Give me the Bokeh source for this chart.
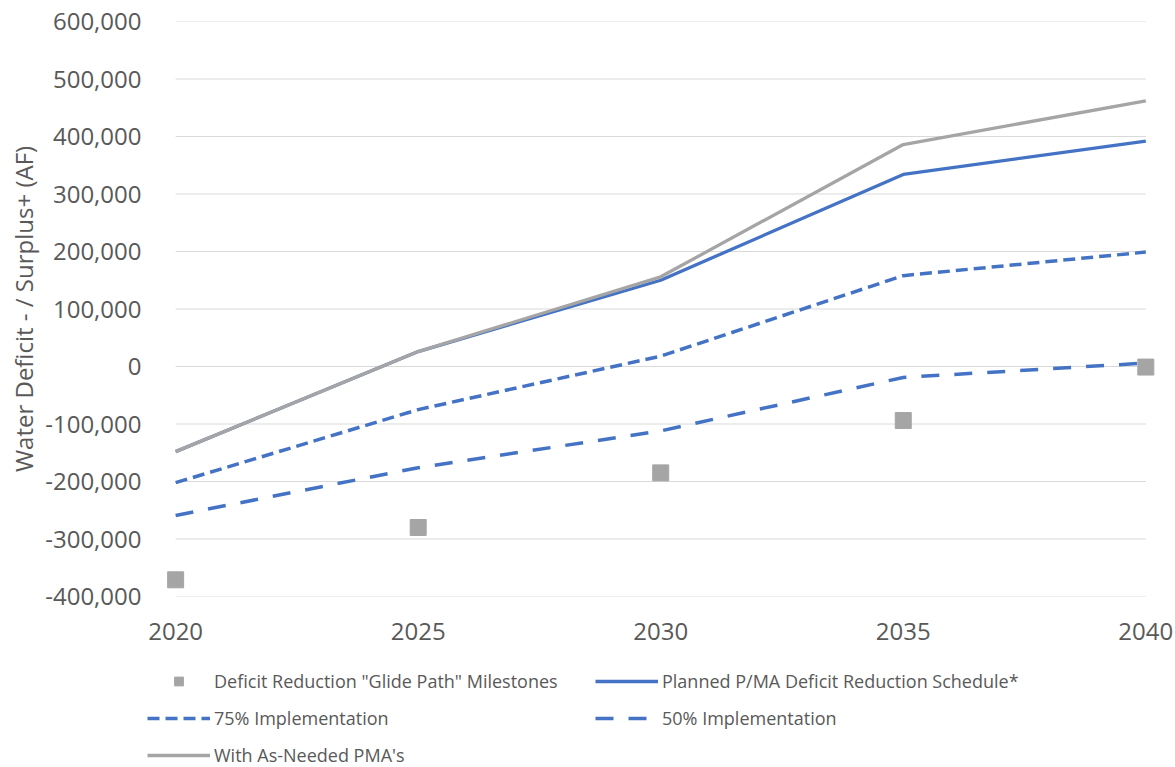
from bokeh.plotting import figure
from bokeh.layouts import column
from bokeh.models import Range1d, NumeralTickFormatter, FixedTicker, Legend, LegendItem
from bokeh.embed import file_html
from bokeh.resources import INLINE

years = [2020, 2025, 2030, 2035, 2040]
milestones = [-371000, -280000, -185000, -94000, -1000]
planned = [-148000, 26000, 150000, 334000, 392000]
impl75 = [-202000, -75000, 18000, 158000, 199000]
impl50 = [-259000, -176000, -112000, -19000, 6000]
as_needed = [-148000, 26000, 156000, 386000, 462000]
y_ticks = [-400000, -300000, -200000, -100000, 0, 100000, 200000, 300000, 400000, 500000, 600000]
x_ticks = [2020, 2025, 2030, 2035, 2040]

labels = [
    'Deficit Reduction "Glide Path" Milestones',
    'Planned P/MA Deficit Reduction Schedule*',
    '75% Implementation',
    '50% Implementation',
    "With As-Needed PMA's",
]

BLUE = "#4472C4"
GRAY = "#A5A5A5"
TXT = "#595959"
FONT = "Open Sans"

styles = {
    "ms": dict(marker="square", color=GRAY),
    "pl": dict(line_color=BLUE, line_width=3.3, line_join="round"),
    "75": dict(line_color=BLUE, line_width=3.5, line_dash="12 6"),
    "50": dict(line_color=BLUE, line_width=3.5, line_dash="18 15"),
    "an": dict(line_color=GRAY, line_width=3.3, line_join="round"),
}

LEFT = 147
RIGHT = 20

# ---------------- main chart ----------------
p = figure(width=1175, height=651, output_backend="svg", toolbar_location=None,
           x_range=Range1d(2019.42, 2040.2), y_range=Range1d(-400000, 600000),
           min_border_left=LEFT, min_border_right=RIGHT, min_border_top=21, min_border_bottom=55)
p.outline_line_color = None
p.background_fill_color = "white"
p.border_fill_color = "white"

p.xgrid.grid_line_color = None
p.ygrid.grid_line_color = None
p.segment(x0=[years[0]] * len(y_ticks), x1=[years[-1]] * len(y_ticks), y0=y_ticks, y1=y_ticks,
          line_color="#D9D9D9", line_width=1)

p.scatter(years, milestones, size=16, **styles["ms"])
p.line(years, planned, **styles["pl"])
p.line(years, impl75, **styles["75"])
p.line(years, impl50, **styles["50"])
p.line(years, as_needed, **styles["an"])

p.yaxis.ticker = FixedTicker(ticks=y_ticks)
p.yaxis.formatter = NumeralTickFormatter(format="0,0")
p.xaxis.ticker = FixedTicker(ticks=x_ticks)
for ax in (p.xaxis[0], p.yaxis[0]):
    ax.axis_line_color = None
    ax.major_tick_line_color = None
    ax.minor_tick_line_color = None
    ax.major_label_text_font = FONT
    ax.major_label_text_font_size = "24px"
    ax.major_label_text_color = TXT
p.yaxis.major_label_standoff = 0
p.xaxis.major_label_standoff = 20
p.yaxis.axis_label = "Water Deficit - / Surplus+ (AF)"
p.yaxis.axis_label_text_font = FONT
p.yaxis.axis_label_text_font_size = "24px"
p.yaxis.axis_label_text_font_style = "normal"
p.yaxis.axis_label_text_color = TXT
p.yaxis.axis_label_standoff = 2

# ---------------- legend strip ----------------
lg = figure(width=1175, height=116, output_backend="svg", toolbar_location=None,
            x_range=Range1d(0, 1), y_range=Range1d(0, 1),
            x_axis_location=None, y_axis_location=None,
            min_border_left=LEFT, min_border_right=RIGHT, min_border_top=0, min_border_bottom=0)
lg.outline_line_color = None
lg.grid.grid_line_color = None
lg.border_fill_color = "white"
lg.background_fill_color = "white"

# legend-only glyphs (single point outside the visible range)
g_ms = lg.scatter([-5], [-5], size=16, **styles["ms"])
g_pl = lg.line([-5], [-5], **styles["pl"])
g_75 = lg.line([-5], [-5], **styles["75"])
g_50 = lg.line([-5], [-5], **styles["50"])
g_an = lg.line([-5], [-5], **styles["an"])

common = dict(orientation="vertical", glyph_width=63, glyph_height=22, label_height=22,
              label_standoff=4, spacing=13, padding=0, margin=0,
              border_line_alpha=0, background_fill_alpha=0,
              label_text_font=FONT, label_text_font_size="18px", label_text_color=TXT)

leg1 = Legend(items=[
    LegendItem(label=labels[0], renderers=[g_ms]),
    LegendItem(label=labels[2], renderers=[g_75]),
    LegendItem(label=labels[4], renderers=[g_an]),
], location=(0, 0), **common)
leg2 = Legend(items=[
    LegendItem(label=labels[1], renderers=[g_pl]),
    LegendItem(label=labels[3], renderers=[g_50]),
], location=(595 - LEFT, 37), **common)
lg.add_layout(leg1)
lg.add_layout(leg2)

layout = column(p, lg, spacing=0)
open("out.html", "w").write(file_html(layout, INLINE))
